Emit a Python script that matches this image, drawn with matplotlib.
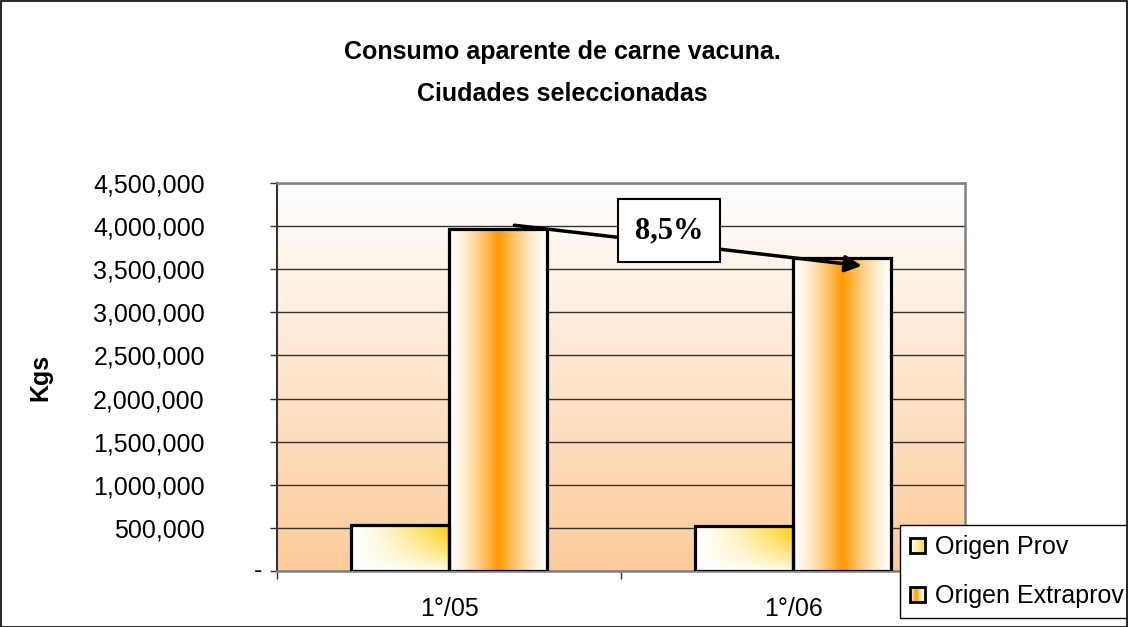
import numpy as np
import matplotlib
matplotlib.use("Agg")
import matplotlib.pyplot as plt
from matplotlib.patches import Rectangle
from matplotlib.legend_handler import HandlerBase
from matplotlib.colors import to_rgb

# ---------------- data ----------------
categories = ['1°/05', '1°/06']
series_names = ['Origen Prov', 'Origen Extraprov']
prov = [533000, 522000]
extraprov = [3966000, 3630000]
y_ticks = [0, 500000, 1000000, 1500000, 2000000, 2500000, 3000000, 3500000, 4000000, 4500000]
change_label = '8,5%'
title = 'Consumo aparente de carne vacuna.\nCiudades seleccionadas'
y_label = 'Kgs'

plt.rcParams['font.family'] = ['Liberation Sans', 'DejaVu Sans']

W, H = 1128, 627
fig = plt.figure(figsize=(W / 100, H / 100), dpi=100)
fig.patch.set_facecolor('white')
ax = fig.add_axes([277 / W, 56 / H, 688 / W, 388 / H])

white = np.array([1, 1, 1])
orange = np.array(to_rgb('#FF9900'))
gold = np.array(to_rgb('#FFCC00'))
peach = np.array(to_rgb('#FDCB99'))

def extraprov_grad(n=200):
    t = np.linspace(0, 1, n)
    d = np.abs(t - 0.5) * 2
    w = (1 - d) ** 1.4
    img = white[None, :] * (1 - w[:, None]) + orange[None, :] * w[:, None]
    return img[None, :, :]

def prov_grad(nx=120, ny=60):
    u = np.linspace(0, 1, nx)[None, :]
    v = np.linspace(1, 0, ny)[:, None]
    w = np.clip(u ** 1.4 * v ** 0.7, 0, 1)
    return white * (1 - w[..., None]) + gold * w[..., None]

# background gradient of the plot area
tt = np.linspace(0, 1, 256)[:, None]
bg = white * (1 - tt[..., None]) + peach * tt[..., None]
ax.imshow(bg, extent=[0, 1, 0, 1], transform=ax.transAxes, aspect='auto',
          zorder=0, interpolation='bilinear')

x = np.arange(len(categories))
width = 0.285
b1 = ax.bar(x - width / 2, prov, width, facecolor='none', edgecolor='black',
            linewidth=2.3, zorder=4, label=series_names[0])
b2 = ax.bar(x + width / 2, extraprov, width, facecolor='none', edgecolor='black',
            linewidth=2.3, zorder=4, label=series_names[1])

for bars, maker in ((b1, prov_grad), (b2, extraprov_grad)):
    for r in bars:
        x0, y0 = r.get_x(), r.get_y()
        im = ax.imshow(maker(), extent=[x0, x0 + r.get_width(), y0, y0 + r.get_height()],
                       aspect='auto', zorder=3, interpolation='bilinear')
        im.set_clip_path(r)

ax.set_xlim(-0.5, 1.5)
ax.set_ylim(0, 4500000)

# grid
ax.set_yticks(y_ticks)
ax.yaxis.grid(True, color='#333333', linewidth=1.0, zorder=1)
ax.set_axisbelow(True)
ax.set_yticklabels(['' if v == 0 else f'{v:,.0f}' for v in y_ticks], fontsize=18)
ax.tick_params(axis='y', length=5, width=1, color='#333333', pad=47, direction='out')
ax.annotate('-', xy=(0, 0), xycoords=('axes fraction', 'data'), xytext=(-15, 0),
            textcoords='offset pixels', ha='right', va='center', fontsize=18)

ax.set_xticks([-0.5, 0.5, 1.5])
ax.set_xticklabels(['', '', ''])
ax.tick_params(axis='x', which='major', length=6, width=1, color='#333333', direction='out')
ax.set_xticks(x, minor=True)
ax.set_xticklabels(categories, minor=True, fontsize=18)
ax.tick_params(axis='x', which='minor', length=0, pad=19)

for s in ('top', 'right', 'bottom'):
    ax.spines[s].set_color('#808080')
    ax.spines[s].set_linewidth(1.8)
ax.spines['left'].set_color('#333333')
ax.spines['left'].set_linewidth(1.5)

ax.set_ylabel(y_label, fontsize=18, fontweight='bold')
ax.yaxis.set_label_coords(-0.327, 0.5)

fig.suptitle(title, fontsize=18, fontweight='bold', x=562 / W, y=1 - 73 / H,
             va='center', linespacing=1.9)

# arrow with percentage change
ax.annotate('', xy=(1.2, 3540000), xytext=(0.19, 4010000),
            arrowprops=dict(arrowstyle='-|>', lw=2.5, color='black', mutation_scale=25,
                            shrinkA=0, shrinkB=0), zorder=6)
ax.text(0.64, 3950000, change_label, fontsize=22, fontweight='bold',
        family=['Liberation Serif', 'DejaVu Serif'], ha='center', va='center', zorder=7,
        bbox=dict(boxstyle='square,pad=0.55', facecolor='white', edgecolor='black', linewidth=1.5))

# legend with gradient swatches
class GradHandler(HandlerBase):
    def __init__(self, kind):
        super().__init__()
        self.kind = kind

    def create_artists(self, legend, orig_handle, xdescent, ydescent, width, height, fontsize, trans):
        size = min(width, height) * 1.0
        x0 = -xdescent + (width - size) / 2
        y0 = -ydescent + (height - size) / 2
        arts = []
        n = 12
        for i in range(n):
            t = (i + 0.5) / n
            if self.kind == 'prov':
                w = t ** 1.2 * 0.9
                c = white * (1 - w) + gold * w
            else:
                d = abs(t - 0.4) * 2
                w = max(0.0, 1 - d) ** 1.2
                c = white * (1 - w) + orange * w
            arts.append(Rectangle((x0 + size * i / n, y0), size / n, size, facecolor=c,
                                  edgecolor='none', transform=trans))
        arts.append(Rectangle((x0, y0), size, size, facecolor='none', edgecolor='black',
                              linewidth=2, transform=trans))
        return arts

leg = ax.legend([b1, b2], series_names, loc='upper left',
                bbox_to_anchor=(900 / W, 1 - 525 / H), bbox_transform=fig.transFigure,
                fontsize=18, frameon=True, fancybox=False, framealpha=1, edgecolor='black',
                borderaxespad=0, handlelength=0.6, handleheight=0.6, handletextpad=0.4,
                labelspacing=1.0, borderpad=0.4,
                handler_map={b1: GradHandler('prov'), b2: GradHandler('extra')})
leg.get_frame().set_linewidth(1.0)
leg.set_zorder(10)

# chart border
fig.patches.append(Rectangle((0.5 / W, 0.5 / H), 1 - 1.5 / W, 1 - 1.5 / H, transform=fig.transFigure,
                             fill=False, edgecolor='black', linewidth=1.2))

fig.savefig('out.png', dpi=100)
